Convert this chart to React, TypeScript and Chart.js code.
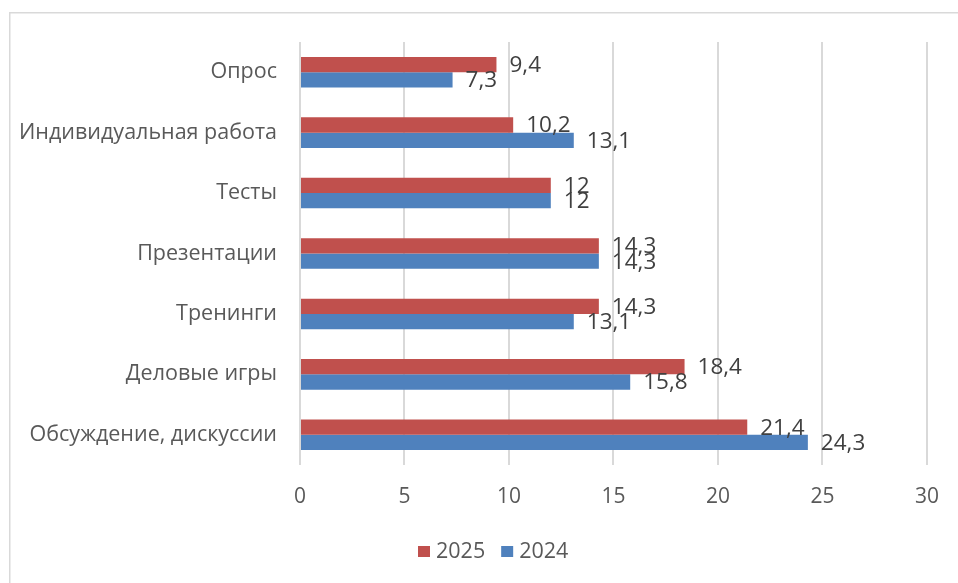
import React, { useEffect, useRef } from "react";
import { Chart, registerables } from "chart.js";

Chart.register(...registerables);

const categories = [
  "Опрос",
  "Индивидуальная работа",
  "Тесты",
  "Презентации",
  "Тренинги",
  "Деловые игры",
  "Обсуждение, дискуссии",
];
const series2025 = [9.4, 10.2, 12, 14.3, 14.3, 18.4, 21.4];
const series2024 = [7.3, 13.1, 12, 14.3, 13.1, 15.8, 24.3];
const seriesNames = ["2025", "2024"];
const seriesColors = ["#C0504D", "#4F81BD"];
const xMin = 0;
const xMax = 30;
const xStep = 5;

const FONT = "'Open Sans', 'Noto Sans', sans-serif";

const framePlugin = {
  id: "frame",
  beforeDraw(chart: any) {
    const ctx = chart.ctx;
    ctx.save();
    ctx.fillStyle = "#ffffff";
    ctx.fillRect(0, 0, chart.width, chart.height);
    ctx.strokeStyle = "#d9d9d9";
    ctx.lineWidth = 1.5;
    ctx.beginPath();
    ctx.moveTo(9.75, chart.height + 5);
    ctx.lineTo(9.75, 12.75);
    ctx.lineTo(chart.width + 5, 12.75);
    ctx.stroke();
    ctx.restore();
  },
};

const labelPlugin = {
  id: "valueLabels",
  afterDatasetsDraw(chart: any) {
    const ctx = chart.ctx;
    ctx.save();
    ctx.font = `22.5px ${FONT}`;
    ctx.fillStyle = "#404040";
    ctx.textAlign = "left";
    ctx.textBaseline = "middle";
    chart.data.datasets.forEach((ds: any, di: number) => {
      const meta = chart.getDatasetMeta(di);
      meta.data.forEach((el: any, i: number) => {
        const v = ds.data[i];
        const txt = String(v).replace(".", ",");
        ctx.fillText(txt, el.x + 13, el.y + 1);
      });
    });
    ctx.restore();
  },
};

const legendPlugin = {
  id: "customLegend",
  afterDraw(chart: any) {
    const ctx = chart.ctx;
    ctx.save();
    ctx.font = `21.5px ${FONT}`;
    ctx.textBaseline = "middle";
    ctx.textAlign = "left";
    let x = 418;
    const yMid = 552;
    chart.data.datasets.forEach((ds: any) => {
      ctx.fillStyle = ds.backgroundColor;
      ctx.fillRect(x, yMid - 6, 12, 11);
      x += 18;
      ctx.fillStyle = "#595959";
      ctx.fillText(ds.label, x, yMid);
      x += ctx.measureText(ds.label).width + 16;
    });
    ctx.restore();
  },
};

export default function App() {
  const ref = useRef<HTMLCanvasElement>(null);
  useEffect(() => {
    document.body.style.overflow = "hidden";
    const chart = new Chart(ref.current!, {
      type: "bar",
      data: {
        labels: categories,
        datasets: [
          {
            label: seriesNames[0],
            data: series2025,
            backgroundColor: seriesColors[0],
            barPercentage: 1,
            categoryPercentage: 0.506,
          },
          {
            label: seriesNames[1],
            data: series2024,
            backgroundColor: seriesColors[1],
            barPercentage: 1,
            categoryPercentage: 0.506,
          },
        ],
      },
      options: {
        indexAxis: "y",
        animation: false,
        responsive: false,
        devicePixelRatio: 1,
        layout: { padding: { top: 42, right: 30, left: 0, bottom: 0 } },
        plugins: {
          legend: { display: false },
          tooltip: { enabled: false },
        },
        scales: {
          x: {
            min: xMin,
            max: xMax,
            ticks: {
              stepSize: xStep,
              color: "#595959",
              font: { family: FONT, size: 21 },
              padding: 19,
              maxRotation: 0,
            },
            grid: { color: "#d9d9d9", lineWidth: 2, drawTicks: false },
            border: { display: false },
            afterFit(scale: any) {
              scale.height = 118;
            },
          },
          y: {
            ticks: {
              color: "#595959",
              font: { family: FONT, size: 21.5 },
              padding: 23,
            },
            grid: { display: false, drawTicks: false },
            border: { display: false },
            afterFit(scale: any) {
              scale.width = 300;
            },
          },
        },
      },
      plugins: [framePlugin, labelPlugin, legendPlugin],
    });
    return () => chart.destroy();
  }, []);
  return (
    <div style={{ position: "fixed", left: 0, top: 0, width: 958, height: 583, overflow: "hidden" }}>
      <canvas ref={ref} width={958} height={583} style={{ display: "block" }} />
    </div>
  );
}
